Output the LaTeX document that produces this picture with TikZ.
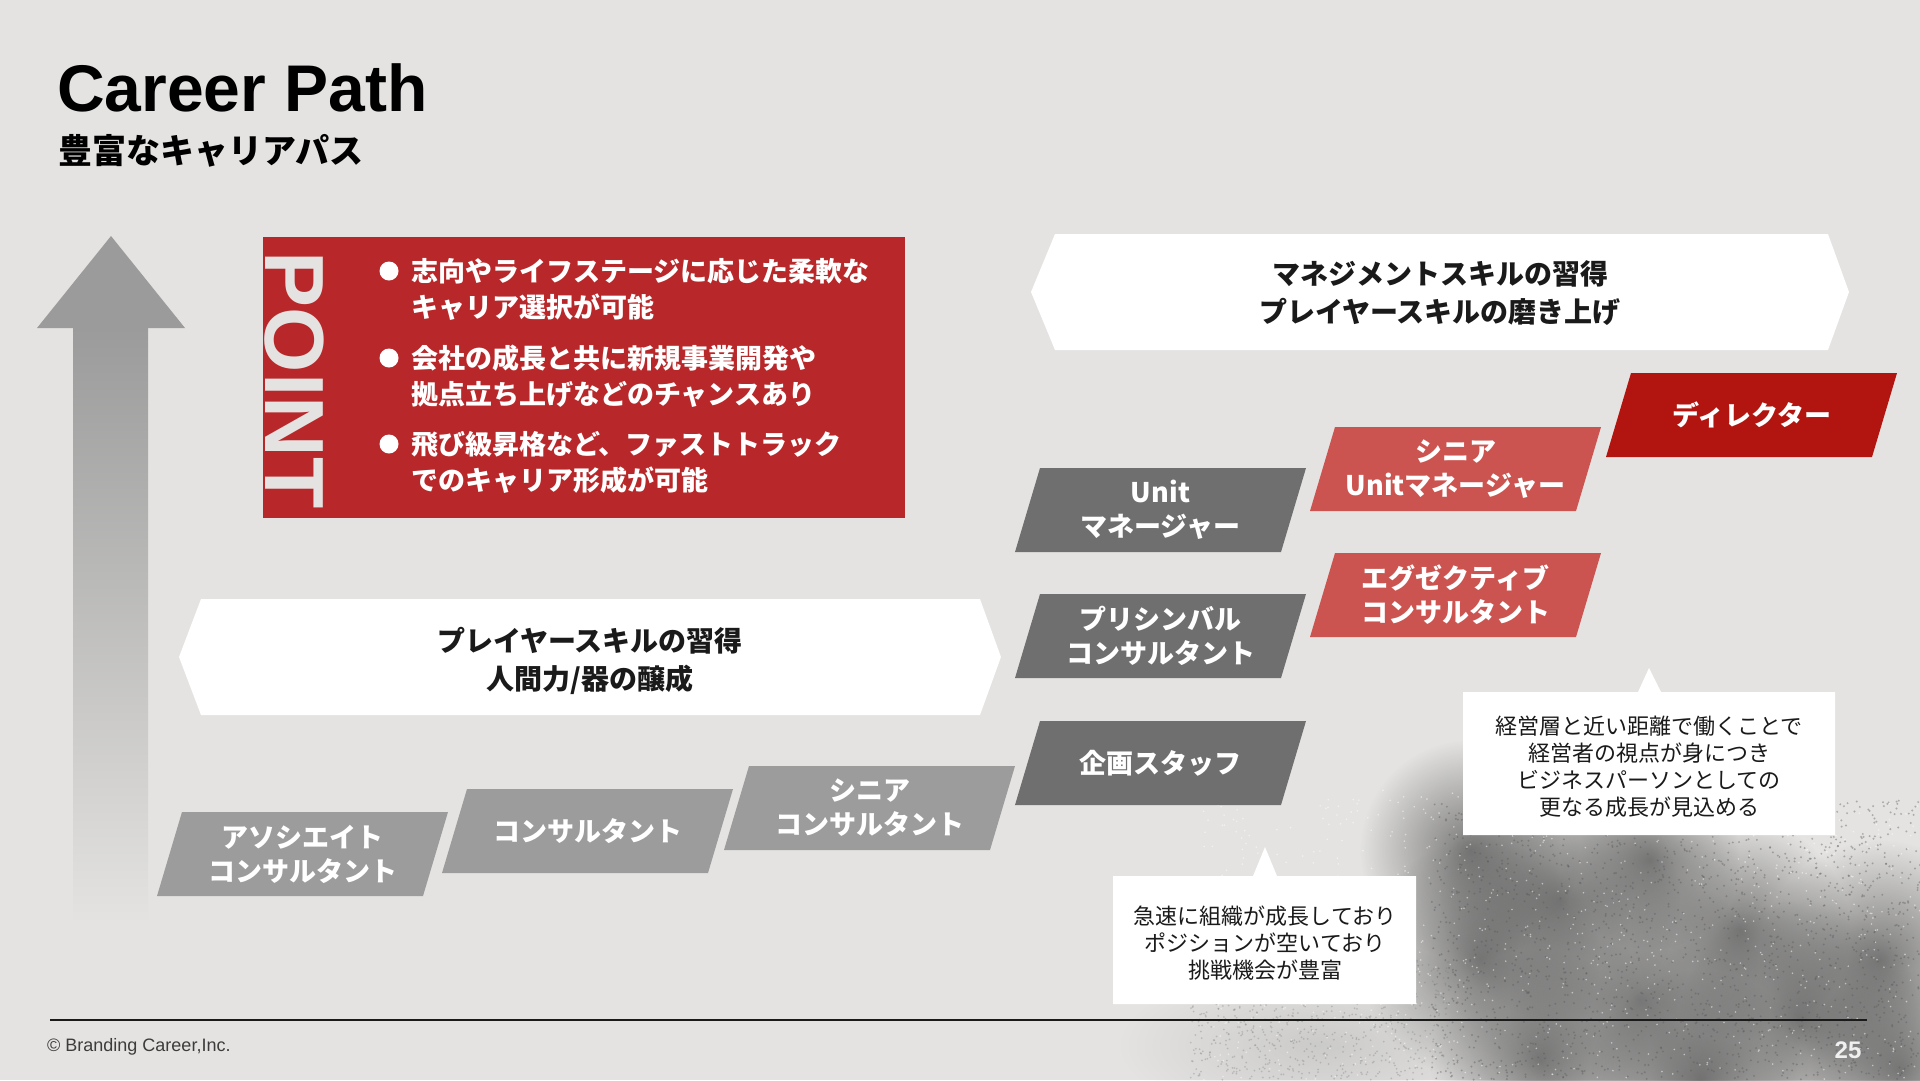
\documentclass[tikz,border=0pt]{standalone}
\usepackage{fontspec}
\setmainfont{Liberation Sans}
\newfontfamily\jp{Noto Sans CJK JP}
\usetikzlibrary{fadings}

\definecolor{bgcol}{HTML}{E4E3E1}
\definecolor{pointred}{HTML}{B8282A}
\definecolor{lightstep}{HTML}{9C9C9C}
\definecolor{darkstep}{HTML}{6F6F6F}
\definecolor{pinkstep}{HTML}{CC5450}
\definecolor{topstep}{HTML}{B2150F}
\definecolor{arrowgray}{HTML}{9B9B9B}
\definecolor{inktext}{HTML}{1A1A1A}

\tikzfading[name=softspot, inner color=transparent!0, outer color=transparent!100]

\tikzset{
  steptext/.style={text=white, font=\jp\bfseries\fontsize{27}{34}\selectfont, align=center, inner sep=0pt},
  bannertext/.style={text=inktext, font=\jp\bfseries\fontsize{28}{38}\selectfont, align=center, inner sep=0pt},
  notetext/.style={text=inktext, font=\jp\fontsize{22}{27}\selectfont, align=center, inner sep=0pt},
  pointtext/.style={text=white, font=\jp\bfseries\fontsize{27}{36}\selectfont, align=left, inner sep=0pt, anchor=west},
  bulletdot/.style={circle, fill=white, minimum size=19pt, inner sep=0pt},
  grain/.style={path fading=softspot},
}

\begin{document}
\begin{tikzpicture}[x=1pt, y=-1pt]
  \fill[bgcol] (0,0) rectangle (1920,1080);
  \useasboundingbox (0,0) rectangle (1920,1080);

  % sand texture, lower right
  \begin{scope}
    \clip (0,0) rectangle (1920,1080);
    \foreach \cx/\cy/\r in {1470/850/110, 1480/960/120, 1540/1060/110, 1560/900/120,
        1640/1000/130, 1700/1080/110, 1740/930/110, 1800/1020/120,
        1880/960/120, 1900/1070/100, 1650/860/90}{
      \fill[black!68, opacity=0.72, grain] (\cx,\cy) circle (\r);
    }
    \fill[black!35, opacity=0.4, grain] (1320,1045) ellipse (200 and 80);
    \pgfmathsetseed{12}
    \foreach \i in {1,...,1800}{
      \pgfmathsetmacro\rx{1430+490*rnd}
      \pgfmathsetmacro\ry{800+280*rnd}
      \fill[black!65, opacity=0.4] (\rx,\ry) circle (1.1);
    }
    \foreach \i in {1,...,700}{
      \pgfmathsetmacro\rx{1190+260*rnd}
      \pgfmathsetmacro\ry{960+120*rnd}
      \fill[black!50, opacity=0.35] (\rx,\ry) circle (1);
    }
    \foreach \i in {1,...,900}{
      \pgfmathsetmacro\rx{1200+720*rnd}
      \pgfmathsetmacro\ry{790+290*rnd}
      \fill[white, opacity=0.5] (\rx,\ry) circle (0.9);
    }
  \end{scope}

  % title
  \node[anchor=base west, font=\bfseries\fontsize{66}{66}\selectfont, inner sep=0pt] (title) at (57,111) {Career Path};
  \node[anchor=west, font=\jp\bfseries\fontsize{34}{34}\selectfont, inner sep=0pt] (subtitle) at (58,151) {豊富なキャリアパス};

  % growth arrow
  \shade[top color=arrowgray, bottom color=bgcol] (73,327) rectangle (148,924);
  \fill[arrowgray] (37,328) -- (111,236) -- (185,328) -- cycle;

  % point box
  \fill[pointred] (263,237) rectangle (905,518);
  \node[rotate=-90, font=\bfseries\fontsize{84}{84}\selectfont, text=bgcol, inner sep=0pt] (point) at (294,380) {POINT};
  \node[bulletdot] (d1) at (389,271) {};
  \node[pointtext] (p1) at (411,289) {志向やライフステージに応じた柔軟な\\キャリア選択が可能};
  \node[bulletdot] (d2) at (389,358) {};
  \node[pointtext] (p2) at (411,376) {会社の成長と共に新規事業開発や\\拠点立ち上げなどのチャンスあり};
  \node[bulletdot] (d3) at (389,444) {};
  \node[pointtext] (p3) at (411,462) {飛び級昇格など、ファストトラック\\でのキャリア形成が可能};

  % banners
  \fill[white] (1031,292) -- (1055,234) -- (1828,234) -- (1849,292) -- (1828,350) -- (1055,350) -- cycle;
  \node[bannertext] (mgmt) at (1440,293) {マネジメントスキルの習得\\プレイヤースキルの磨き上げ};
  \fill[white] (179,657) -- (201,599) -- (980,599) -- (1001,657) -- (980,715) -- (201,715) -- cycle;
  \node[bannertext] (player) at (590,661) {プレイヤースキルの習得\\人間力/器の醸成};

  % career steps
  \foreach \nm/\bx/\ty/\col/\txt in {
      assoc/157/812/lightstep/{アソシエイト\\コンサルタント},
      cons/442/789/lightstep/{コンサルタント},
      scons/724/766/lightstep/{シニア\\コンサルタント},
      staff/1015/721/darkstep/{企画スタッフ},
      pcons/1015/594/darkstep/{プリシンバル\\コンサルタント},
      unitmgr/1015/468/darkstep/{Unit\\マネージャー},
      econs/1310/553/pinkstep/{エグゼクティブ\\コンサルタント},
      sunitmgr/1310/427/pinkstep/{シニア\\Unitマネージャー},
      director/1606/373/topstep/{ディレクター}}{
    \fill[\col] (\bx+25,\ty) -- (\bx+291,\ty) -- (\bx+266,\ty+84) -- (\bx,\ty+84) -- cycle;
    \node[steptext] (\nm) at (\bx+145.5,\ty+42) {\txt};
  }

  % notes
  \fill[white] (1113,876) -- (1253,876) -- (1265,847) -- (1277,876) -- (1416,876) -- (1416,1004) -- (1113,1004) -- cycle;
  \node[notetext] (note1) at (1265,943) {急速に組織が成長しており\\ポジションが空いており\\挑戦機会が豊富};
  \fill[white] (1463,692) -- (1638,692) -- (1649,668) -- (1661,692) -- (1835,692) -- (1835,835) -- (1463,835) -- cycle;
  \node[notetext] (note2) at (1649,767) {経営層と近い距離で働くことで\\経営者の視点が身につき\\ビジネスパーソンとしての\\更なる成長が見込める};

  % footer
  \draw[line width=2pt, color=inktext] (50,1020) -- (1867,1020);
  \node[anchor=base west, font=\fontsize{18}{18}\selectfont, text=inktext!85, inner sep=0pt] (copy) at (47,1051) {© Branding Career,Inc.};
  \node[font=\bfseries\fontsize{24}{24}\selectfont, text=white!94!black, inner sep=0pt] (page) at (1848,1050) {25};
\end{tikzpicture}
\end{document}
